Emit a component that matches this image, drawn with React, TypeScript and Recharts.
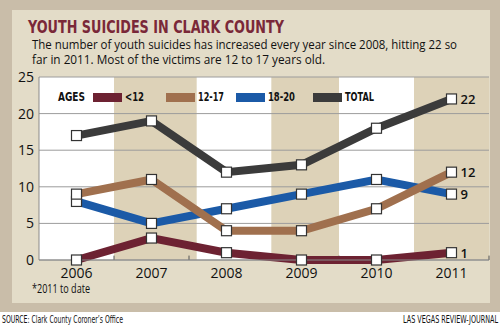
import React from 'react';
import {
  LineChart,
  Line,
  XAxis,
  YAxis,
  CartesianGrid,
  ReferenceArea,
  ReferenceLine
} from 'recharts';

const years = [2006, 2007, 2008, 2009, 2010, 2011];
const under12 = [0, 3, 1, 0, 0, 1];
const age12to17 = [9, 11, 4, 4, 7, 12];
const age18to20 = [8, 5, 7, 9, 11, 9];
const total = [17, 19, 12, 13, 18, 22];
const yTicks = [0, 5, 10, 15, 20, 25];
const legendLabels = ['<12', '12-17', '18-20', 'TOTAL'];
const stripes = [[2006.5, 2007.6], [2008.6, 2009.5], [2010.5, 2011.5]];
const bandEdges = [2006.5, 2007.5, 2008.5, 2009.5, 2010.5, 2011.5];

const C_UNDER = '#6d2232';
const C_TEEN = '#a0704e';
const C_YOUNG = '#1b5aa7';
const C_TOTAL = '#3b3b3b';
const TAN = '#ddd2b8';
const PANEL = '#e3dcc8';
const OUTER = '#c9bda9';

const NARROW = '"Liberation Sans Narrow", "DejaVu Sans Condensed", Roboto, sans-serif';
const BODY = '"Open Sans", "Noto Sans", sans-serif';

const data = years.map((y, i) => ({
  year: y,
  u12: under12[i],
  t1217: age12to17[i],
  y1820: age18to20[i],
  total: total[i]
}));

const Square = (props: any) => {
  const { cx, cy, index } = props;
  if (cx == null || cy == null) return <g key={index} />;
  return (
    <rect key={index} x={cx - 5} y={cy - 5} width={10} height={10}
      fill="#fff" stroke="#333" strokeWidth={1.2} />
  );
};

// only the 2011 value gets a number
const EndLabel = (props: any) => {
  const { x, y, index, value } = props;
  if (index !== years.length - 1) return null;
  return (
    <text x={x + 9} y={y + 5} fontSize={13} fontWeight={600} fill="#111" fontFamily={BODY}>
      {value}
    </text>
  );
};

const legendColors = [C_UNDER, C_TEEN, C_YOUNG, C_TOTAL];
const legendSwatchX = [93, 166, 236, 313];
const legendTextW = [19, 26, 27, 29];

const App: React.FC = () => {
  return (
    <div style={{ position: 'absolute', left: 0, top: 0, width: 500, height: 330, background: '#fff', overflow: 'hidden' }}>
      <div style={{ position: 'absolute', left: 0, top: 0, width: 500, height: 312, background: OUTER }} />
      <div style={{ position: 'absolute', left: 12, top: 10, width: 478, height: 293, background: PANEL }} />
      <div style={{ position: 'absolute', left: 0, top: 0 }}>
        <LineChart width={500} height={330} data={data}
          margin={{ top: 77, right: 11, left: 9, bottom: 40 }}>
          {stripes.map((s, i) => (
            <ReferenceArea key={'w' + i} x1={i === 0 ? 2005.5 : stripes[i - 1][1]} x2={s[0]}
              fill="#fff" fillOpacity={1} stroke="none" zIndex={-300} />
          ))}
          {stripes.map((s, i) => (
            <ReferenceArea key={'s' + i} x1={s[0]} x2={s[1]}
              fill={TAN} fillOpacity={1} stroke="none" zIndex={-300} />
          ))}
          <CartesianGrid vertical={false} stroke="#9c9c9c" strokeWidth={1} />
          <XAxis dataKey="year" type="number" domain={[2005.5, 2011.5]} ticks={years}
            axisLine={{ stroke: '#8a8a8a' }} tickLine={false} height={30}
            tick={{ fill: '#111', fontSize: 14, fontFamily: BODY }} />
          <YAxis domain={[0, 25]} ticks={yTicks} width={30} tickSize={4} tickMargin={1}
            axisLine={{ stroke: '#8a8a8a' }} tickLine={false}
            tick={{ fill: '#111', fontSize: 14, fontFamily: BODY }} />
          {bandEdges.map((e) => (
            <ReferenceLine key={e} segment={[{ x: e, y: 0 }, { x: e, y: 0.6 }]}
              stroke="#555" strokeWidth={1} />
          ))}
          <Line dataKey="u12" stroke={C_UNDER} strokeWidth={8} strokeLinejoin="miter"
            dot={Square} activeDot={false} label={EndLabel} isAnimationActive={false} />
          <Line dataKey="y1820" stroke={C_YOUNG} strokeWidth={8} strokeLinejoin="miter"
            dot={Square} activeDot={false} label={EndLabel} isAnimationActive={false} />
          <Line dataKey="t1217" stroke={C_TEEN} strokeWidth={8} strokeLinejoin="miter"
            dot={Square} activeDot={false} label={EndLabel} isAnimationActive={false} />
          <Line dataKey="total" stroke={C_TOTAL} strokeWidth={8} strokeLinejoin="miter"
            dot={Square} activeDot={false} label={EndLabel} isAnimationActive={false} />
        </LineChart>
      </div>
      <svg width={500} height={330} style={{ position: 'absolute', left: 0, top: 0, pointerEvents: 'none' }}>
        <text x={28} y={33} fontSize={18} fontWeight={700} fill="#7a2838" fontFamily={NARROW}
          textLength={256} lengthAdjust="spacingAndGlyphs">YOUTH SUICIDES IN CLARK COUNTY</text>
        <text x={32} y={49} fontSize={13} fill="#111" fontFamily={BODY}
          textLength={425} lengthAdjust="spacingAndGlyphs">
          The number of youth suicides has increased every year since 2008, hitting 22 so
        </text>
        <text x={32} y={64} fontSize={13} fill="#111" fontFamily={BODY}
          textLength={293} lengthAdjust="spacingAndGlyphs">
          far in 2011. Most of the victims are 12 to 17 years old.
        </text>
        <text x={58} y={101} fontSize={13} fontWeight={700} fill="#111" fontFamily={NARROW}
          textLength={27} lengthAdjust="spacingAndGlyphs">AGES</text>
        {legendLabels.map((l, i) => (
          <g key={l}>
            <rect x={legendSwatchX[i]} y={93} width={29} height={9} fill={legendColors[i]} />
            <text x={legendSwatchX[i] + 32} y={101} fontSize={13} fontWeight={700} fill="#111"
              fontFamily={NARROW} textLength={legendTextW[i]} lengthAdjust="spacingAndGlyphs">{l}</text>
          </g>
        ))}
        <text x={32} y={293} fontSize={12} fill="#111" fontFamily={BODY}
          textLength={58} lengthAdjust="spacingAndGlyphs">*2011 to date</text>
        <text x={2} y={323} fontSize={11} fill="#111" fontFamily={NARROW}
          textLength={121} lengthAdjust="spacingAndGlyphs">SOURCE: Clark County Coroner’s Office</text>
        <text x={403} y={323} fontSize={11} fill="#111" fontFamily={NARROW}
          textLength={95} lengthAdjust="spacingAndGlyphs">LAS VEGAS REVIEW-JOURNAL</text>
      </svg>
    </div>
  );
};

export default App;
